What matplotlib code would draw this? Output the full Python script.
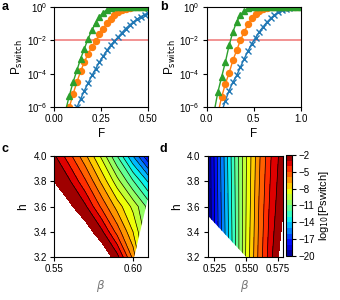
import numpy as np
import matplotlib
matplotlib.use('Agg')
import matplotlib.pyplot as plt
from matplotlib.patches import Polygon

plt.rcParams['font.family'] = ['Liberation Sans', 'DejaVu Sans']
plt.rcParams['font.size'] = 7
plt.rcParams['axes.linewidth'] = 0.8

# panel a: F vs log10(Pswitch)
F_a = [0.04, 0.06, 0.08, 0.10, 0.12, 0.14, 0.16, 0.18, 0.20, 0.22, 0.24, 0.26, 0.28,
       0.30, 0.32, 0.34, 0.36, 0.38, 0.40, 0.42, 0.44, 0.46, 0.48, 0.50]
blue_a = [-9.0, -8.0, -7.3, -6.6, -6.0, -5.5, -5.0, -4.55, -4.1, -3.7, -3.3, -2.95, -2.6,
          -2.3, -2.05, -1.8, -1.55, -1.3, -1.1, -0.92, -0.75, -0.6, -0.47, -0.35]
orange_a = [-8.0, -6.8, -6.0, -5.2, -4.5, -3.85, -3.3, -2.8, -2.4, -2.05, -1.65, -1.3, -0.98,
            -0.72, -0.5, -0.33, -0.2, -0.12, -0.07, -0.04, -0.02, -0.01, -0.005, 0.0]
green_a = [-7.0, -6.2, -5.3, -4.5, -3.8, -3.1, -2.5, -1.9, -1.4, -0.95, -0.6, -0.35, -0.18,
           -0.08, -0.04, -0.02, -0.01, 0.0, 0.0, 0.0, 0.0, 0.0, 0.0, 0.0]

# panel b
F_b = [0.08, 0.12, 0.16, 0.20, 0.24, 0.28, 0.32, 0.36, 0.40, 0.44, 0.48, 0.52, 0.56,
       0.60, 0.64, 0.68, 0.72, 0.76, 0.80, 0.84, 0.88, 0.92, 0.96, 1.00]
blue_b = [-8.0, -7.1, -6.3, -5.6, -5.0, -4.5, -4.1, -3.6, -3.1, -2.65, -2.2, -1.85, -1.5,
          -1.2, -0.93, -0.7, -0.5, -0.34, -0.22, -0.13, -0.07, -0.04, -0.02, -0.01]
orange_b = [-7.5, -6.4, -5.4, -4.6, -3.95, -3.2, -2.6, -2.0, -1.5, -1.05, -0.7, -0.42, -0.23,
            -0.12, -0.06, -0.03, -0.015, 0.0, 0.0, 0.0, 0.0, 0.0, 0.0, 0.0]
green_b = [-6.3, -5.1, -4.2, -3.3, -2.3, -1.5, -0.9, -0.5, -0.25, -0.1, -0.04, -0.02, 0.0,
           0.0, 0.0, 0.0, 0.0, 0.0, 0.0, 0.0, 0.0, 0.0, 0.0, 0.0]

# panel c: log10(Pswitch) on (beta, h)
beta_c = [0.54, 0.55, 0.56, 0.57, 0.58, 0.59, 0.60, 0.61, 0.62]
h_c = [3.2, 3.4, 3.6, 3.8, 4.0]
Z_c = [[3.0, 2.5, 1.8, 0.8, -1.0, -2.6, -6.3, -11.0, -16.0],
       [1.5, 0.8, 0.0, -1.4, -2.7, -5.4, -8.0, -11.0, -14.0],
       [0.2, -0.8, -1.8, -2.85, -5.2, -7.4, -9.3, -11.4, -14.0],
       [-0.8, -2.0, -2.9, -4.9, -7.2, -9.6, -11.9, -14.2, -17.0],
       [-1.0, -2.8, -4.7, -6.8, -9.2, -12.0, -15.0, -18.0, -21.0]]
# region of panel c with data (beta, h)
valid_c = [(0.54, 3.1), (0.5989, 3.1), (0.6176, 4.1), (0.54, 4.1)]

# panel d
beta_d = [0.51, 0.52, 0.53, 0.54, 0.55, 0.56, 0.57, 0.58, 0.59]
h_d = [3.2, 3.6, 4.0]
Z_d = [[-22.0, -19.9, -16.3, -12.6, -8.8, -5.7, -3.1, -1.0, 0.5],
       [-22.0, -19.9, -16.1, -12.45, -8.95, -5.95, -3.5, -1.9, 0.0],
       [-22.0, -19.8, -15.9, -12.3, -9.05, -6.2, -3.9, -2.2, -0.3]]
valid_d = [(0.51, 4.1), (0.59, 4.1), (0.59, 3.1), (0.5592, 3.1), (0.51, 3.634)]

levels = np.arange(-20, -1, 1)
cbar_ticks = [-2, -5, -8, -11, -14, -17, -20]

fig = plt.figure(figsize=(3.4, 3.0), dpi=100)
ax_a = fig.add_axes([0.1597, 0.6423, 0.2765, 0.3353])
ax_b = fig.add_axes([0.6074, 0.6423, 0.2771, 0.3353])
ax_c = fig.add_axes([0.1588, 0.1433, 0.2765, 0.3367])
ax_d = fig.add_axes([0.6103, 0.1433, 0.2206, 0.3367])
cax = fig.add_axes([0.8412, 0.1467, 0.0176, 0.3367])


def curves(ax, F, blue, orange, green, xmax, xticks):
    ax.axhline(1e-2, color='#f08080', lw=1.2, zorder=1)
    ax.plot(F, 10 ** np.array(blue), '-x', color='tab:blue', ms=3.8, mew=1.0, lw=1.0)
    ax.plot(F, 10 ** np.array(orange), '-o', color='tab:orange', ms=4.3, lw=1.0)
    ax.plot(F, 10 ** np.array(green), '-^', color='tab:green', ms=4.5, lw=1.0)
    ax.set_yscale('log')
    ax.set_ylim(1e-6, 1e0)
    ax.set_xlim(0, xmax)
    ax.set_yticks([1e-6, 1e-4, 1e-2, 1e0])
    ax.minorticks_off()
    ax.set_xticks(xticks)
    ax.set_xlabel('F', fontsize=8.5, labelpad=3)
    ax.set_ylabel(r'P$_{\rm switch}$', fontsize=8.5, labelpad=1)
    ax.tick_params(length=3, width=0.8, labelsize=7, pad=2)


curves(ax_a, F_a, blue_a, orange_a, green_a, 0.5, [0.0, 0.25, 0.5])
ax_a.set_xticklabels(['0.00', '0.25', '0.50'])
curves(ax_b, F_b, blue_b, orange_b, green_b, 1.0, [0.0, 0.5, 1.0])


def contour_panel(ax, beta, h, Z, valid, xlim, xticks):
    cf = ax.contourf(beta, h, Z, levels=levels, cmap='jet')
    cl = ax.contour(beta, h, Z, levels=levels[1:-1], colors='k',
                    linewidths=0.5, linestyles='solid')
    clip = Polygon(valid, closed=True, transform=ax.transData)
    cf.set_clip_path(clip)
    cl.set_clip_path(clip)
    ax.set_xlim(*xlim)
    ax.set_ylim(3.2, 4.0)
    ax.set_xticks(xticks)
    ax.set_yticks([3.2, 3.4, 3.6, 3.8, 4.0])
    ax.set_xlabel(r'$\beta$', fontsize=8.5, color='#777777', labelpad=3)
    ax.set_ylabel('h', fontsize=8.5, labelpad=3)
    ax.tick_params(length=3, width=0.8, labelsize=7, pad=2)
    return cf


contour_panel(ax_c, beta_c, h_c, Z_c, valid_c, (0.55, 0.6095), [0.55, 0.60])
cf_d = contour_panel(ax_d, beta_d, h_d, Z_d, valid_d, (0.5195, 0.5785), [0.525, 0.55, 0.575])
ax_c.set_xticklabels(['0.55', '0.60'])

cb = fig.colorbar(cf_d, cax=cax, ticks=cbar_ticks)
cb.set_label('log$_{10}$[Pswitch]', fontsize=8, labelpad=1)
cb.ax.tick_params(length=3, width=0.8, labelsize=7, pad=2)
cb.outline.set_linewidth(0.8)

for label, x, y in [('a', 0.005, 0.975), ('b', 0.47, 0.975), ('c', 0.005, 0.505), ('d', 0.47, 0.505)]:
    fig.text(x, y, label, fontsize=9, fontweight='bold', va='center', ha='left')

fig.savefig('out.png', dpi=100)
